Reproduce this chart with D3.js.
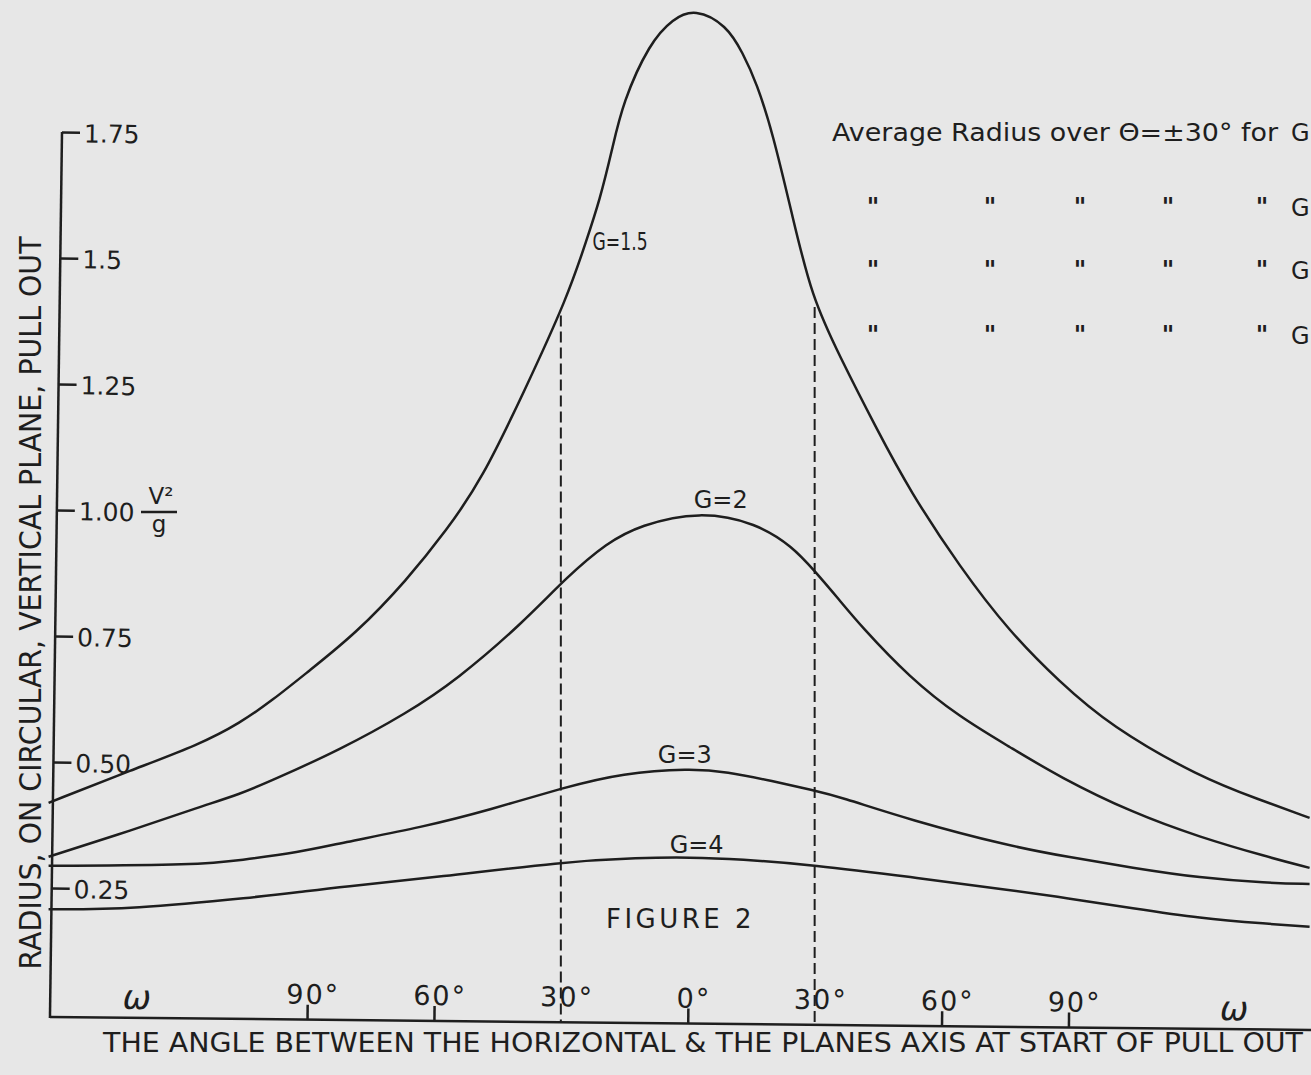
<!DOCTYPE html>
<html><head><meta charset="utf-8">
<script src="https://cdn.jsdelivr.net/npm/d3@7"></script>
<style>
html,body{margin:0;padding:0;background:#e7e7e7;}
svg{display:block;}
text{font-family:"DejaVu Sans",sans-serif;fill:#1e1e1e;}
</style></head><body>
<svg id="chart" width="1311" height="1075"></svg>
<script>
// ---- data (angle in degrees, radius in V^2/g) ----
const angleTicks = [-90, -60, -30, 0, 30, 60, 90];
const angleTickLabels = ["90°", "60°", "30°", "0°", "30°", "60°", "90°"];
const radiusTicks = [0.25, 0.5, 0.75, 1.0, 1.25, 1.5, 1.75];
const radiusTickLabels = ["0.25", "0.50", "0.75", "1.00", "1.25", "1.5", "1.75"];
const seriesNames = ["G=1.5", "G=2", "G=3", "G=4"];
const averagingLimits = [-30, 30];

const g15 = [[-151.1,0.419],[-131.2,0.485],[-115.4,0.535],[-105.9,0.577],[-98.1,0.623],[-90.1,0.677],
  [-78.3,0.756],[-66.4,0.861],[-57.0,0.960],[-48.7,1.060],[-38.5,1.238],[-28.4,1.423],[-23.9,1.536],
  [-20.8,1.615],[-17.9,1.714],[-15.4,1.808],[-9.0,1.927],[-3.5,1.975],[1.7,1.995],[9.2,1.962],
  [13.0,1.907],[16.3,1.847],[20.1,1.748],[24.8,1.581],[29.3,1.423],[35.9,1.305],[44.7,1.160],
  [52.5,1.038],[64.3,0.887],[76.1,0.758],[87.9,0.659],[99.8,0.572],[121.0,0.470],[135.2,0.425],[147.0,0.389]];
const g2 = [[-151.1,0.312],[-131.2,0.365],[-115.4,0.411],[-105.9,0.436],[-98.1,0.464],[-82.3,0.524],
  [-66.4,0.597],[-54.6,0.663],[-39.0,0.776],[-28.6,0.867],[-19.1,0.935],[-11.3,0.970],[2.8,0.998],
  [16.3,0.974],[24.8,0.927],[29.8,0.881],[35.9,0.821],[40.7,0.772],[52.5,0.667],[64.3,0.589],
  [76.1,0.530],[87.9,0.470],[105.2,0.399],[121.0,0.351],[136.9,0.312],[147.0,0.290]];
const g3 = [[-151.1,0.294],[-115.4,0.296],[-105.9,0.305],[-91.7,0.321],[-82.3,0.339],[-62.6,0.371],
  [-46.8,0.405],[-29.1,0.450],[-15.4,0.478],[0.5,0.487],[9.2,0.481],[20.1,0.462],[29.6,0.444],
  [35.9,0.431],[52.5,0.385],[76.1,0.333],[89.6,0.312],[105.2,0.290],[121.0,0.270],[136.9,0.260],[147.0,0.258]];
const g4 = [[-151.1,0.208],[-131.2,0.208],[-101.9,0.232],[-91.7,0.242],[-82.3,0.252],[-58.6,0.272],
  [-29.6,0.302],[-11.3,0.310],[0.5,0.311],[12.3,0.307],[29.6,0.296],[52.5,0.272],[76.1,0.246],
  [89.6,0.230],[105.2,0.210],[121.0,0.190],[136.9,0.179],[147.0,0.173]];
const allSeries = [g15, g2, g3, g4];

// ---- drawing ----
const ink = "#1e1e1e";
const svg = d3.select("#chart");
const x = d3.scaleLinear().domain([-151, 151]).range([49, 1326.5]);
const y = d3.scaleLinear().domain([0, 1.75]).range([1014, 132]);
const xAxisY = y(0) + 3;
const yAxisX = 50;
const xTilt = 0.59, yTilt = 0.78;           // slight skew of the hand-drawn axes
const xSlope = Math.tan(xTilt * Math.PI / 180);

// curves
const line = d3.line().x(d => x(d[0])).y(d => y(d[1])).curve(d3.curveBasis);
svg.append("g").selectAll("path").data(allSeries).join("path")
  .attr("d", line).attr("fill", "none").attr("stroke", ink).attr("stroke-width", 2.5)
  .attr("stroke-linejoin", "round");

// dashed lines at ±30° from G=1.5 curve to axis
function interp(series, a) {
  for (let i = 0; i < series.length - 1; i++) {
    const [a0, v0] = series[i], [a1, v1] = series[i + 1];
    if (a >= a0 && a <= a1) return v0 + (v1 - v0) * (a - a0) / (a1 - a0);
  }
  return series[series.length - 1][1];
}
svg.append("g").selectAll("line").data(averagingLimits).join("line")
  .attr("x1", d => x(d)).attr("x2", d => x(d))
  .attr("y1", d => y(interp(g15, d)) + 4).attr("y2", d => xAxisY + (x(d) - yAxisX) * xSlope)
  .attr("stroke", ink).attr("stroke-width", 2).attr("stroke-dasharray", "11,5");

// x axis (slightly tilted like the drawing)
const xg = svg.append("g").attr("transform", `rotate(${xTilt},${yAxisX},${xAxisY})`);
const xAxis = xg.append("g").attr("transform", `translate(0,${xAxisY})`)
  .call(d3.axisTop(x).tickValues(angleTicks.filter(a => Math.abs(a) !== 30))
    .tickSize(15).tickSizeOuter(0).tickFormat(() => ""));
xAxis.select(".domain").attr("d", `M${yAxisX},0H${x.range()[1]}`);
xAxis.selectAll("path,line").attr("stroke", ink).attr("stroke-width", 2.5);

xg.append("g").selectAll("text").data(angleTicks).join("text")
  .attr("x", d => x(d) + 6).attr("y", xAxisY - 16)
  .attr("text-anchor", "middle").attr("font-size", 27).attr("letter-spacing", 2)
  .text((d, i) => angleTickLabels[i]);
xg.append("g").selectAll("text").data([-130.3, 129.1]).join("text")
  .attr("x", d => x(d)).attr("y", xAxisY - 9).attr("text-anchor", "middle")
  .attr("font-size", 34).attr("font-family", "DejaVu Serif").attr("font-style", "italic").text("ω");

// y axis (slightly tilted like the drawing)
const yAxis = svg.append("g").attr("transform", `rotate(${yTilt},${yAxisX},${y(0)}) translate(${yAxisX},0)`)
  .call(d3.axisRight(y).tickValues(radiusTicks).tickSize(18).tickPadding(4).tickSizeOuter(0)
    .tickFormat((d, i) => radiusTickLabels[i]));
yAxis.select(".domain").attr("d", `M0,${y(1.75)}V${xAxisY + 1}`);
yAxis.selectAll("path,line").attr("stroke", ink).attr("stroke-width", 2.5);
yAxis.selectAll("text").attr("font-size", 25).attr("fill", ink)
  .attr("font-family", "DejaVu Sans").attr("dy", "0.38em");

// V^2 / g unit beside 1.00
const unit = svg.append("g");
unit.append("text").attr("x", 161).attr("y", y(1.0) - 6).attr("text-anchor", "middle")
  .attr("font-size", 23).text("V²");
unit.append("line").attr("x1", 141).attr("x2", 177).attr("y1", y(1.0) + 2).attr("y2", y(1.0) + 2)
  .attr("stroke", ink).attr("stroke-width", 2.4);
unit.append("text").attr("x", 159).attr("y", y(1.0) + 22).attr("text-anchor", "middle")
  .attr("font-size", 23).text("g");

// axis titles
svg.append("text").attr("x", 103).attr("y", 1052).attr("font-size", 27)
  .attr("textLength", 1200).attr("lengthAdjust", "spacingAndGlyphs")
  .text("THE ANGLE BETWEEN THE HORIZONTAL & THE PLANES AXIS AT START OF PULL OUT");
svg.append("text").attr("transform", "translate(41,603) rotate(-90)").attr("text-anchor", "middle")
  .attr("font-size", 30).attr("textLength", 733).attr("lengthAdjust", "spacingAndGlyphs")
  .text("RADIUS, ON CIRCULAR, VERTICAL PLANE, PULL OUT");

// series labels
const labelG = svg.append("g").attr("font-size", 24);
labelG.append("text").attr("x", x(-22.5)).attr("y", y(1.516)).attr("textLength", 55)
  .attr("lengthAdjust", "spacingAndGlyphs").text(seriesNames[0]);
labelG.append("text").attr("x", x(7.8)).attr("y", y(1.004)).attr("text-anchor", "middle").text(seriesNames[1]);
labelG.append("text").attr("x", x(-0.7)).attr("y", y(0.498)).attr("text-anchor", "middle").text(seriesNames[2]);
labelG.append("text").attr("x", x(2.1)).attr("y", y(0.319)).attr("text-anchor", "middle").text(seriesNames[3]);
svg.append("text").attr("x", x(-1.7)).attr("y", y(0.171)).attr("text-anchor", "middle")
  .attr("font-size", 26).attr("letter-spacing", 3.5).text("FIGURE 2");

// note at top right
const note = svg.append("g");
note.append("text").attr("x", 832).attr("y", 141).attr("font-size", 25)
  .attr("textLength", 446).attr("lengthAdjust", "spacingAndGlyphs")
  .text("Average Radius over Θ=±30° for");
note.append("text").attr("x", 1291).attr("y", 141).attr("font-size", 24).text("G");
const dittoCols = [873, 990, 1080, 1168, 1262];
[216, 279, 344].forEach(by => {
  note.append("g").selectAll("text").data(dittoCols).join("text")
    .attr("x", d => d).attr("y", by - 1).attr("text-anchor", "middle")
    .attr("font-size", 24).attr("font-weight", "bold").text("\"");
  note.append("text").attr("x", 1291).attr("y", by).attr("font-size", 24).text("G");
});
</script></body></html>
